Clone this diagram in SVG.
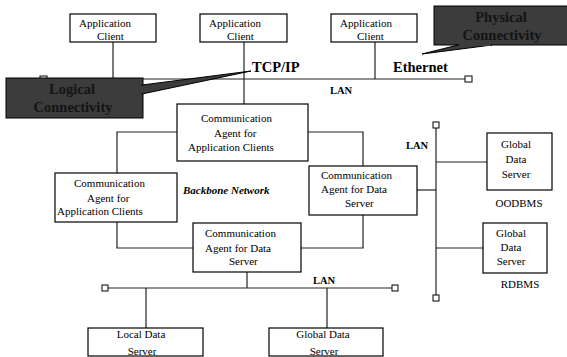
<svg xmlns="http://www.w3.org/2000/svg" width="567" height="357" viewBox="0 0 567 357">
<style>
.box{fill:#fff;stroke:#000;stroke-width:1.2}
.t{font-family:"Liberation Serif","Times New Roman",serif;font-size:11px;fill:#000}
.c{text-anchor:middle}
.lan{font-family:"Liberation Serif","Times New Roman",serif;font-size:10.5px;font-weight:bold;fill:#000}
.big{font-family:"Liberation Serif","Times New Roman",serif;font-size:14.5px;font-weight:bold;fill:#000}
.call{fill:#3c3c3c;stroke:#000;stroke-width:1}
.callt{font-family:"Liberation Serif","Times New Roman",serif;font-size:14.5px;font-weight:bold;fill:#141414;text-anchor:middle}
.ln{fill:none;stroke:#222;stroke-width:1.2}
.term{fill:#fff;stroke:#000;stroke-width:1}
</style>
<rect width="567" height="357" fill="#fff"/>
<g id="connectors">
<line class="ln" x1="47" y1="79" x2="465" y2="79"/>
<rect class="term" x="40" y="76" width="7" height="6"/>
<rect class="term" x="465" y="76" width="7" height="6"/>
<line class="ln" x1="113" y1="42" x2="113" y2="79"/>
<line class="ln" x1="244" y1="42" x2="244" y2="104"/>
<line class="ln" x1="375" y1="42" x2="375" y2="79"/>
<polyline class="ln" points="177,132 117,132 117,173"/>
<polyline class="ln" points="308,132 363,132 363,166"/>
<polyline class="ln" points="117,222 117,248 193,248"/>
<polyline class="ln" points="363,215 363,248 301,248"/>
<line class="ln" x1="247" y1="272" x2="247" y2="288"/>
<line class="ln" x1="108" y1="288" x2="392" y2="288"/>
<rect class="term" x="102" y="285" width="6" height="6"/>
<rect class="term" x="392" y="285" width="6" height="6"/>
<line class="ln" x1="146" y1="288" x2="146" y2="328"/>
<line class="ln" x1="327" y1="288" x2="327" y2="328"/>
<line class="ln" x1="436" y1="128" x2="436" y2="295"/>
<rect class="term" x="433" y="122" width="6" height="6"/>
<rect class="term" x="433" y="295" width="6" height="6"/>
<line class="ln" x1="417" y1="190" x2="436" y2="190"/>
<line class="ln" x1="436" y1="162" x2="487" y2="162"/>
<line class="ln" x1="436" y1="248" x2="483" y2="248"/>
</g>
<g id="appClient1">
<rect class="box" x="70" y="14" width="86" height="28"/>
<text class="t" x="79" y="27">Application</text>
<text class="t" x="97" y="40">Client</text>
</g>
<g id="appClient2">
<rect class="box" x="200" y="14" width="87" height="28"/>
<text class="t" x="209" y="27">Application</text>
<text class="t" x="227" y="40">Client</text>
</g>
<g id="appClient3">
<rect class="box" x="331" y="14" width="86" height="28"/>
<text class="t" x="340" y="27">Application</text>
<text class="t" x="357" y="40">Client</text>
</g>
<g id="commAgentAppTop">
<rect class="box" x="177" y="104" width="131" height="57"/>
<text class="t" x="201" y="122">Communication</text>
<text class="t" x="214" y="137">Agent for</text>
<text class="t" x="188" y="151">Application Clients</text>
</g>
<g id="commAgentAppLeft">
<rect class="box" x="55" y="173" width="122" height="49"/>
<text class="t" x="74" y="187">Communication</text>
<text class="t" x="87" y="202">Agent for</text>
<text class="t" x="57" y="215">Application Clients</text>
</g>
<g id="commAgentDataBottom">
<rect class="box" x="193" y="223" width="108" height="49"/>
<text class="t" x="205" y="237">Communication</text>
<text class="t" x="205" y="252">Agent for Data</text>
<text class="t" x="229" y="265">Server</text>
</g>
<g id="commAgentDataRight">
<rect class="box" x="309" y="166" width="108" height="49"/>
<text class="t" x="321" y="179">Communication</text>
<text class="t" x="321" y="193">Agent for Data</text>
<text class="t" x="345" y="207">Server</text>
</g>
<g id="globalDataServerOO">
<rect class="box" x="487" y="133" width="65" height="57"/>
<text class="t c" x="516" y="148">Global</text>
<text class="t c" x="516" y="163">Data</text>
<text class="t c" x="516" y="178">Server</text>
</g>
<g id="globalDataServerRD">
<rect class="box" x="483" y="223" width="64" height="50"/>
<text class="t c" x="511" y="237">Global</text>
<text class="t c" x="511" y="251">Data</text>
<text class="t c" x="511" y="265">Server</text>
</g>
<g id="localDataServer">
<rect class="box" x="88" y="328" width="115" height="28"/>
<text class="t c" x="141" y="338">Local Data</text>
<text class="t c" x="142" y="355">Server</text>
</g>
<g id="globalDataServerBottom">
<rect class="box" x="269" y="328" width="114" height="28"/>
<text class="t c" x="323" y="338">Global Data</text>
<text class="t c" x="324" y="355">Server</text>
</g>
<g id="labels">
<text class="lan" x="330" y="94">LAN</text>
<text class="lan" x="406" y="149">LAN</text>
<text class="lan" x="313" y="284">LAN</text>
<text class="t c" x="519" y="207">OODBMS</text>
<text class="t c" x="520" y="288">RDBMS</text>
<text class="t" x="183" y="194" style="font-weight:bold;font-style:italic">Backbone Network</text>
<text class="big" x="252" y="72">TCP/IP</text>
<text class="big" x="393" y="72">Ethernet</text>
</g>
<g id="logicalConnectivity">
<rect class="call" x="6" y="78" width="137" height="40"/>
<polygon class="call" points="142,85 251,71 142,94"/>
<rect x="140" y="86" width="3" height="7" fill="#3c3c3c"/>
<text class="callt" x="72" y="94">Logical</text>
<text class="callt" x="73" y="112">Connectivity</text>
</g>
<g id="physicalConnectivity">
<rect class="call" x="434" y="6" width="140" height="39"/>
<polygon class="call" points="422,54 458,45 492,45"/>
<rect x="459" y="43" width="32" height="3" fill="#3c3c3c"/>
<text class="callt" x="501" y="22">Physical</text>
<text class="callt" x="502" y="40">Connectivity</text>
</g>
</svg>
